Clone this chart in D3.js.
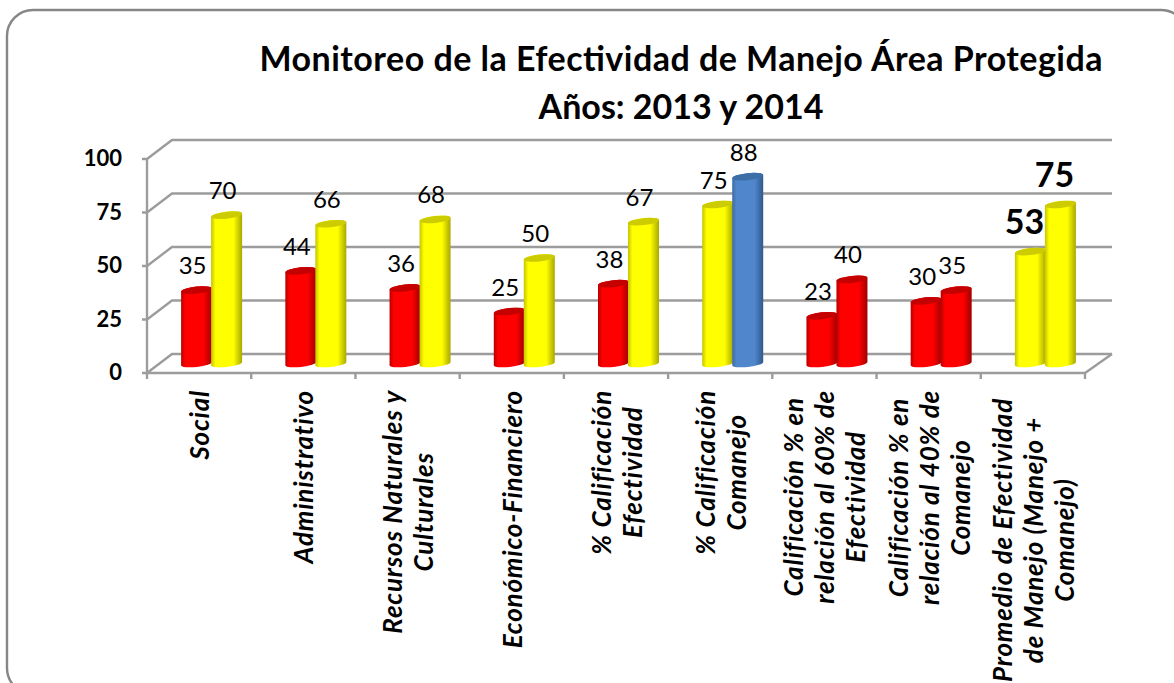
<!DOCTYPE html>
<html><head><meta charset="utf-8">
<script src="https://cdnjs.cloudflare.com/ajax/libs/d3/7.8.5/d3.min.js"></script>
<style>html,body{margin:0;padding:0;background:#fff;overflow:hidden}svg{display:block}text{font-family:Lato,Carlito,sans-serif;fill:#000}</style>
</head><body><svg id="c" width="1174" height="683"></svg>
<script>
const titleLines = ["Monitoreo de la Efectividad de Manejo Área Protegida","Años: 2013 y 2014"];
const categories = ["Social","Administrativo","Recursos Naturales y|Culturales","Económico-Financiero","% Calificación|Efectividad","% Calificación|Comanejo","Calificación % en|relación al 60% de|Efectividad","Calificación % en|relación al 40% de|Comanejo","Promedio de Efectividad|de Manejo (Manejo +|Comanejo)"];
const series1 = [35,44,36,25,38,75,23,30,53];
const series2 = [70,66,68,50,67,88,40,35,75];
const colors1 = ["red","red","red","red","red","yellow","red","red","yellow"];
const colors2 = ["yellow","yellow","yellow","yellow","yellow","blue","red","red","yellow"];
const ticks = [0,25,50,75,100];

const palette = {
  red:{edge:"#b80000",mid:"#ff0000",dark:"#a00000",top:"#c40000"},
  yellow:{edge:"#c4c400",mid:"#ffff00",dark:"#a8a800",top:"#cccc00"},
  blue:{edge:"#3f6da3",mid:"#4f86cc",dark:"#2f5a8c",top:"#3c6ea8"}
};
const svg = d3.select("#c");
const defs = svg.append("defs");
Object.entries(palette).forEach(([k,p])=>{
  const g = defs.append("linearGradient").attr("id","g-"+k);
  [[0,p.edge],[.14,p.mid],[.72,p.mid],[1,p.dark]].forEach(s=>g.append("stop").attr("offset",s[0]).attr("stop-color",s[1]));
});
svg.append("rect").attr("x",7).attr("y",10).attr("width",1180).attr("height",684).attr("rx",26)
  .attr("fill","#fff").attr("stroke","#868686").attr("stroke-width",2.4);

titleLines.forEach((t,i)=>{
  const el = svg.append("text").attr("x",681).attr("y",[71,119][i]).attr("text-anchor","middle")
  .attr("font-size",34).attr("font-weight",700).text(t);
  if(i===0) el.attr("textLength",843);
});

const x = d3.scaleBand().domain(categories).range([147,1085]);
const yFront = d3.scaleLinear().domain([0,100]).range([373,159]);
const yBack = d3.scaleLinear().domain([0,100]).range([354,140]);
const yBar = d3.scaleLinear().domain([0,100]).range([365,151]);
const dx = 25, axisC = "#9c9c9c";
const axes = svg.append("g").attr("stroke",axisC).attr("stroke-width",2.4).attr("fill","none");
ticks.forEach(t=>{
  axes.append("path").attr("d",`M${147-5},${yFront(t)}H147L${147+dx},${yBack(t)}H1112`);
});
axes.append("path").attr("d",`M147,${yFront(0)}V${yFront(100)}`);
axes.append("path").attr("d",`M147,${yFront(0)}H1085L1112,${yBack(0)}`);
x.domain().concat([null]).forEach((c,i)=>{
  const px = 147 + i*x.step();
  axes.append("path").attr("d",`M${px},373v6`);
});

ticks.forEach(t=>svg.append("text").attr("x",122).attr("y",yFront(t)+7).attr("text-anchor","end")
  .attr("font-size",22).attr("font-weight",700).text(t));

const cw = 31, rx = cw/2, ry = 3.5, rot = -6, tilt = rx*Math.tan(-rot*Math.PI/180);
function bar(cx,v,colorKey,labelBold){
  const p = palette[colorKey], yt = yBar(v), yb = yBar(0)-1.5;
  const g = svg.append("g");
  const x0 = cx-rx, x1 = cx+rx;
  g.append("path").attr("fill",`url(#g-${colorKey})`)
   .attr("d",`M${x0},${yt+tilt}L${x0},${yb+tilt}A${rx},${ry} ${rot} 0 0 ${x1},${yb-tilt}L${x1},${yt-tilt}A${rx},${ry} ${rot} 0 0 ${x0},${yt+tilt}Z`);
  g.append("ellipse").attr("cx",cx).attr("cy",yt).attr("rx",rx).attr("ry",ry)
   .attr("transform",`rotate(${rot} ${cx} ${yt})`).attr("fill",p.top);
  svg.append("text").attr("x",cx-(labelBold?6:4)).attr("y",yt-(labelBold?18:16)).attr("text-anchor","middle")
   .attr("font-size",labelBold?34:24).attr("font-weight",labelBold?700:400).text(v);
}
categories.forEach((c,i)=>{
  const cx = x(c)+x.bandwidth()/2+12.5;
  const bold = i===categories.length-1;
  bar(cx-15,series1[i],colors1[i],bold);
  bar(cx+15,series2[i],colors2[i],bold);
});
categories.forEach((c,k)=>{
  const lines = c.split("|"), cx = x(c)+x.bandwidth()/2, gap = 31;
  const g = svg.append("g");
  const ts = lines.map(l=>g.append("text").attr("text-anchor","middle").attr("font-size",26)
     .attr("letter-spacing",0.8).attr("font-weight",700).attr("font-style","italic").text(l));
  const maxLen = d3.max(ts,t=>t.node().getComputedTextLength());
  const cy = (k===categories.length-1?398:390) + maxLen/2;
  ts.forEach((t,i)=>{
    const px = cx + (i-(lines.length-1)/2)*gap + 10;
    t.attr("transform",`translate(${px},${cy}) rotate(-90)`);
  });
});
</script></body></html>
